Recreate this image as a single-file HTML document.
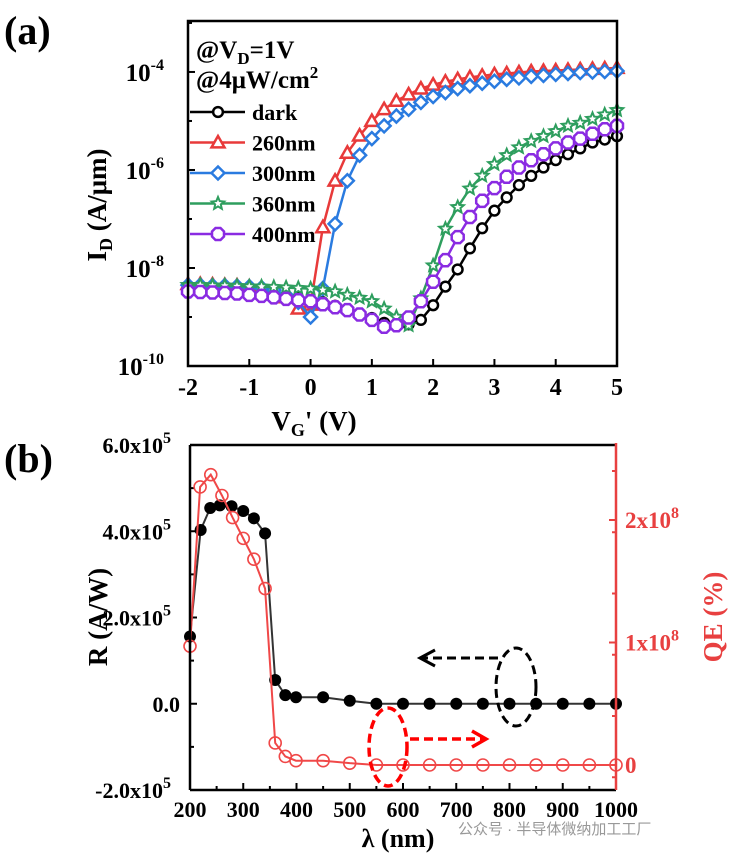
<!DOCTYPE html>
<html><head><meta charset="utf-8"><style>
body{margin:0;background:#fff;}
svg{display:block;font-family:"Liberation Serif",serif;font-weight:bold;}
</style></head><body>
<svg width="751" height="858" viewBox="0 0 751 858">
<g id="ga"></g>
<g id="gb"></g>
</svg>
<script>
// Panel (a) data
const vgValues=[-2,-1.8,-1.6,-1.4,-1.2,-1,-0.8,-0.6,-0.4,-0.2,0,0.2,0.4,0.6,0.8,1,1.2,1.4,1.6,1.8,2,2.2,2.4,2.6,2.8,3,3.2,3.4,3.6,3.8,4,4.2,4.4,4.6,4.8,5];
const logDark=[-8.48,-8.49,-8.5,-8.51,-8.52,-8.54,-8.55,-8.57,-8.59,-8.62,-8.65,-8.7,-8.77,-8.85,-8.93,-9.02,-9.12,-9.18,-9.15,-9.06,-8.76,-8.38,-8.03,-7.6,-7.19,-6.83,-6.56,-6.31,-6.12,-5.95,-5.8,-5.68,-5.56,-5.44,-5.38,-5.31];
const log260=[-8.33,-8.33,-8.34,-8.35,-8.36,-8.38,-8.4,-8.45,-8.6,-8.83,-8.75,-7.17,-6.22,-5.65,-5.3,-5.0,-4.76,-4.59,-4.46,-4.34,-4.26,-4.2,-4.15,-4.11,-4.08,-4.05,-4.03,-4.01,-3.99,-3.98,-3.97,-3.96,-3.95,-3.94,-3.93,-3.92];
const log300=[-8.35,-8.35,-8.36,-8.36,-8.37,-8.38,-8.4,-8.45,-8.55,-8.7,-9.0,-8.42,-7.1,-6.22,-5.7,-5.36,-5.1,-4.9,-4.76,-4.62,-4.5,-4.42,-4.34,-4.28,-4.23,-4.19,-4.15,-4.12,-4.09,-4.07,-4.05,-4.03,-4.01,-4.0,-3.99,-3.98];
const log360=[-8.35,-8.35,-8.36,-8.36,-8.37,-8.38,-8.38,-8.39,-8.4,-8.41,-8.42,-8.45,-8.48,-8.55,-8.61,-8.68,-8.83,-9.0,-9.17,-8.62,-7.95,-7.2,-6.76,-6.38,-6.12,-5.88,-5.7,-5.54,-5.41,-5.31,-5.21,-5.1,-5.04,-4.96,-4.87,-4.78];
const log400=[-8.48,-8.49,-8.5,-8.51,-8.52,-8.55,-8.57,-8.6,-8.63,-8.66,-8.68,-8.74,-8.8,-8.86,-8.95,-9.06,-9.2,-9.17,-9.01,-8.68,-8.28,-7.84,-7.37,-6.96,-6.63,-6.37,-6.14,-5.95,-5.8,-5.68,-5.56,-5.44,-5.36,-5.26,-5.17,-5.1];
const xTicksA=[-2,-1,0,1,2,3,4,5];
const yTicksA=[-10,-8,-6,-4];
// Panel (b) data
const lambdaR=[200,220,238,256,278,300,320,341,360,379,399,450,500,550,600,650,700,750,800,850,900,950,1000];
const rValues=[1.56,4.03,4.54,4.6,4.58,4.47,4.3,3.95,0.55,0.2,0.15,0.15,0.07,0,0,0,0,0,0,0,0,0,0];
const lambdaQE=[200,219,239,260,280,300,320,341,360,379,399,450,500,550,600,650,700,750,800,850,900,950,1000];
const qeValues=[0.97,2.27,2.37,2.2,2.02,1.85,1.68,1.44,0.18,0.07,0.035,0.035,0.015,0,0,0,0,0,0,0,0,0,0];
const xTicksB=[200,300,400,500,600,700,800,900,1000];
const yTicksBL=[-2,0,2,4,6];
const yTicksBLText=["-2.0x10","0.0","2.0x10","4.0x10","6.0x10"];
const yTicksBR=[0,1,2];

const NS="http://www.w3.org/2000/svg";
function mk(p,tag,attrs,txt){const e=document.createElementNS(NS,tag);for(const k in attrs)e.setAttribute(k,attrs[k]);if(txt!==undefined)e.textContent=txt;p.appendChild(e);return e;}
const ga=document.getElementById('ga'),gb=document.getElementById('gb');

// ---- Panel a
const aL=188,aR=617,aT=21,aB=366;
const xa=v=>aL+(v+2)/7*(aR-aL);
const ya=l=>aB-(l+10)/7.04*(aB-aT);
let t=mk(ga,'text',{x:4,y:44,'font-size':40},'(a)');


for(const v of xTicksA){const l=mk(ga,'line',{x1:xa(v),x2:xa(v),y1:aB,y2:aB-7,stroke:'#000','stroke-width':2});


const tx=mk(ga,'text',{x:xa(v),y:aB+29,'font-size':24,'text-anchor':'middle'},String(v));

}
for(let d=-10;d<=-3;d++){const l=mk(ga,'line',{x1:aL,x2:aL+(d%2===0?7:4),y1:ya(d),y2:ya(d),stroke:'#000','stroke-width':2});

}
for(const d of yTicksA){const tx=mk(ga,'text',{x:aL-24,y:ya(d)+9,'font-size':25,'text-anchor':'end'},'10');


mk(tx,'tspan',{dy:-11,'font-size':16},String(d));}
const colorsA=['#000','#e83a3a','#2a7be0','#2e9e5e','#8a2be2'];
const namesA=['dark','260nm','300nm','360nm','400nm'];
const seriesA=[logDark,log260,log300,log360,log400];
function marker(p,kind,x,y,c,s){
 if(kind===0)return mk(p,'circle',{cx:x,cy:y,r:s*0.75,fill:'#fff',stroke:c,'stroke-width':2.5});
 if(kind===1)return mk(p,'polygon',{points:`${x},${y-s} ${x-s},${y+s*0.75} ${x+s},${y+s*0.75}`,fill:'#fff',stroke:c,'stroke-width':2.5});
 if(kind===2)return mk(p,'polygon',{points:`${x},${y-s} ${x+s},${y} ${x},${y+s} ${x-s},${y}`,fill:'#fff',stroke:c,'stroke-width':2.5});
 if(kind===3){let pts=[];for(let i=0;i<10;i++){const r=i%2?s*0.45:s;const a=-Math.PI/2+i*Math.PI/5;pts.push((x+r*Math.cos(a)).toFixed(1)+','+(y+r*Math.sin(a)).toFixed(1));}return mk(p,'polygon',{points:pts.join(' '),fill:'#fff',stroke:c,'stroke-width':2});}
 let pts=[];for(let i=0;i<8;i++){const a=Math.PI/8+i*Math.PI/4;pts.push((x+s*Math.cos(a)).toFixed(1)+','+(y+s*Math.sin(a)).toFixed(1));}
 return mk(p,'polygon',{points:pts.join(' '),fill:'#fff',stroke:c,'stroke-width':2.5});
}
const plotA=mk(ga,'g',{});
for(let k=0;k<5;k++){
 const s=seriesA[k];const g=mk(plotA,'g',{});
 
 
 mk(g,'polyline',{points:vgValues.map((v,i)=>xa(v)+','+ya(s[i])).join(' '),fill:'none',stroke:colorsA[k],'stroke-width':2.5});
 vgValues.forEach((v,i)=>{const m=marker(g,k,xa(v),ya(s[i]),colorsA[k],6.5);
 
 });
}
let fr=mk(ga,'rect',{x:aL,y:aT,width:aR-aL,height:aB-aT,fill:'none',stroke:'#000','stroke-width':2.5});


t=mk(ga,'text',{x:196,y:58,'font-size':25},'@V');mk(t,'tspan',{dy:6,'font-size':17},'D');mk(t,'tspan',{dy:-6},'=1V');


t=mk(ga,'text',{x:196,y:88,'font-size':25},'@4μW/cm');mk(t,'tspan',{dy:-10,'font-size':17},'2');


for(let k=0;k<5;k++){const y=112+k*30.5;const g=mk(ga,'g',{});
 
 
 mk(g,'line',{x1:190,x2:245,y1:y,y2:y,stroke:colorsA[k],'stroke-width':2.5});
 marker(g,k,218,y,colorsA[k],6.5);
 mk(g,'text',{x:252,y:y+8,'font-size':22},namesA[k]);}
t=mk(ga,'text',{x:0,y:0,'font-size':27,transform:'translate(106,205) rotate(-90)','text-anchor':'middle'},'I');
mk(t,'tspan',{dy:6,'font-size':18},'D');mk(t,'tspan',{dy:-6},' (A/μm)');


t=mk(ga,'text',{x:314,y:430,'font-size':27,'text-anchor':'middle'},'V');
mk(t,'tspan',{dy:6,'font-size':18},'G');mk(t,'tspan',{dy:-6},"' (V)");



// ---- Panel b
const bL=190,bR=616,bT=445,bB=790;
const xb=v=>bL+(v-200)/800*(bR-bL);
const ybl=v=>bB-(v+2)/8*(bB-bT);
const ybr=v=>765-v*122.5;
t=mk(gb,'text',{x:4,y:472,'font-size':40},'(b)');


for(let v=200;v<=1000;v+=50){const l=mk(gb,'line',{x1:xb(v),x2:xb(v),y1:bB,y2:bB-(v%100===0?7:4),stroke:'#000','stroke-width':2});

}
for(const v of xTicksB){const tx=mk(gb,'text',{x:xb(v),y:bB+27,'font-size':22,'text-anchor':'middle'},String(v));

}
for(let v=-2;v<=6;v++){const l=mk(gb,'line',{x1:bL,x2:bL+(v%2===0?7:4),y1:ybl(v),y2:ybl(v),stroke:'#000','stroke-width':2});

}
yTicksBL.forEach((v,i)=>{const tx=mk(gb,'text',{x:v===0?180:171,y:ybl(v)+8,'font-size':22,'text-anchor':'end'},yTicksBLText[i]);


if(v!==0)mk(tx,'tspan',{dy:-10,'font-size':16},'5');});
for(let v=-0.1;v<=2.6;v+=0.5){const l=mk(gb,'line',{x1:bR,x2:bR-4,y1:ybr(v),y2:ybr(v),stroke:'#e84040','stroke-width':2});

}
for(const v of yTicksBR){const l=mk(gb,'line',{x1:bR,x2:bR-7,y1:ybr(v),y2:ybr(v),stroke:'#e84040','stroke-width':2});


const tx=mk(gb,'text',{x:625,y:ybr(v)+8,'font-size':23,fill:'#e84040'},v===0?'0':v+'x10');


if(v!==0)mk(tx,'tspan',{dy:-10,'font-size':16},'8');}
let g=mk(gb,'g',{});


mk(g,'polyline',{points:lambdaR.map((v,i)=>xb(v)+','+ybl(rValues[i])).join(' '),fill:'none',stroke:'#333','stroke-width':2});
lambdaR.forEach((v,i)=>{const c=mk(g,'circle',{cx:xb(v),cy:ybl(rValues[i]),r:6,fill:'#000'});

});
g=mk(gb,'g',{});


mk(g,'polyline',{points:lambdaQE.map((v,i)=>xb(v)+','+ybr(qeValues[i])).join(' '),fill:'none',stroke:'#f04848','stroke-width':2});
lambdaQE.forEach((v,i)=>{const c=mk(g,'circle',{cx:xb(v),cy:ybr(qeValues[i]),r:6,fill:'none',stroke:'#f04848','stroke-width':1.6});

});
mk(gb,'line',{x1:bL,x2:bR,y1:bT,y2:bT,stroke:'#000','stroke-width':2.5});
mk(gb,'line',{x1:bL,x2:bR,y1:bB,y2:bB,stroke:'#000','stroke-width':2.5});
mk(gb,'line',{x1:bL,x2:bL,y1:bT,y2:bB,stroke:'#000','stroke-width':2.5});
mk(gb,'line',{x1:bR,x2:bR,y1:bT-2,y2:bB,stroke:'#e84040','stroke-width':2.5});
g=mk(gb,'g',{});


mk(g,'ellipse',{cx:516,cy:687,rx:20,ry:39,fill:'none',stroke:'#000','stroke-width':3,'stroke-dasharray':'9 5'});
mk(g,'line',{x1:498,x2:420,y1:658,y2:658,stroke:'#000','stroke-width':3,'stroke-dasharray':'9 5'});
mk(g,'polyline',{points:'435,650 420,658 435,666',fill:'none',stroke:'#000','stroke-width':3});
g=mk(gb,'g',{});


mk(g,'ellipse',{cx:388,cy:747,rx:19,ry:39,fill:'none',stroke:'#ff0000','stroke-width':3.5,'stroke-dasharray':'9 5'});
mk(g,'line',{x1:410,x2:484,y1:739,y2:739,stroke:'#ff0000','stroke-width':3.5,'stroke-dasharray':'9 5'});
mk(g,'polyline',{points:'472,731 486,739 472,747',fill:'none',stroke:'#ff0000','stroke-width':3.5});
t=mk(gb,'text',{x:0,y:0,'font-size':27,transform:'translate(107,617) rotate(-90)','text-anchor':'middle'},'R (A/W)');


t=mk(gb,'text',{x:0,y:0,'font-size':27,fill:'#e84040',transform:'translate(722,617) rotate(-90)','text-anchor':'middle'},'QE (%)');


t=mk(gb,'text',{x:398,y:847,'font-size':26,'text-anchor':'middle'},'λ (nm)');


t=mk(gb,'text',{x:458,y:834,'font-size':15,fill:'#999','font-weight':'normal','font-family':'"Liberation Sans","Noto Sans CJK SC",sans-serif'},'公众号 · 半导体微纳加工工厂');


</script>
</body></html>
